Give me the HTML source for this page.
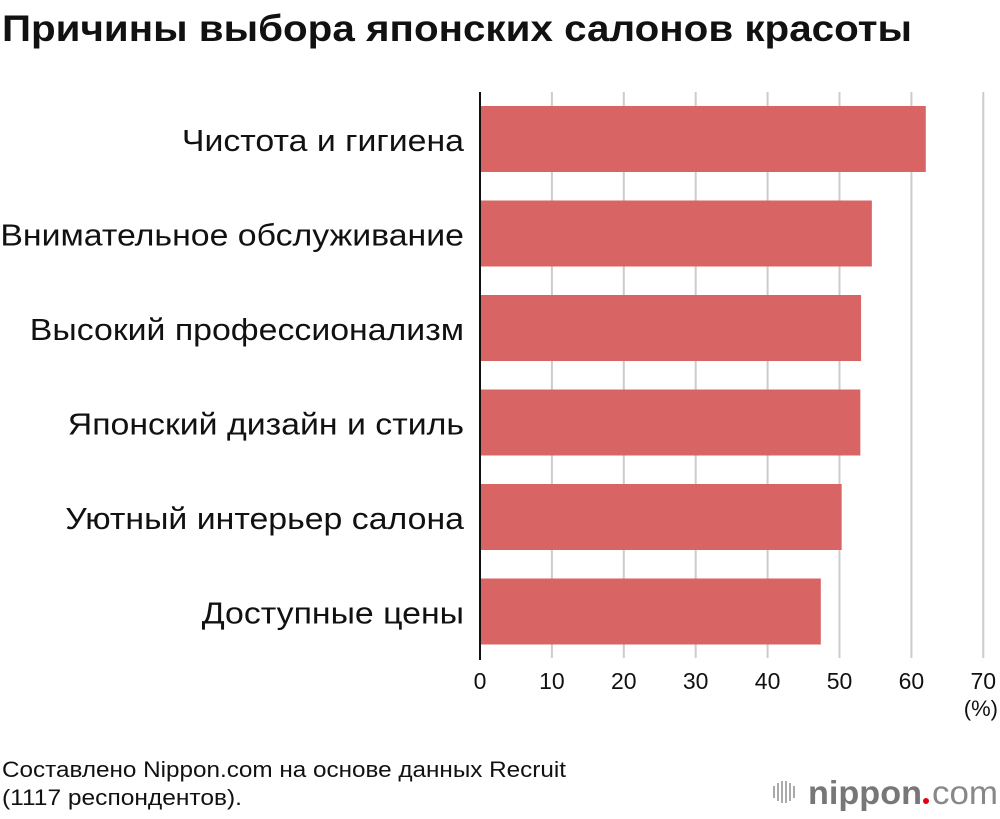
<!DOCTYPE html>
<html><head><meta charset="utf-8"><style>
body{margin:0;background:#fff;width:1000px;height:814px;overflow:hidden;font-family:"Liberation Sans",sans-serif}
svg text{font-family:"Liberation Sans",sans-serif}
</style></head><body>
<svg width="1000" height="814">
<text x="2" y="41" font-size="37" font-weight="bold" fill="#111" textLength="910" lengthAdjust="spacingAndGlyphs">Причины выбора японских салонов красоты</text>
<g id="grid"></g>
<g id="bars"></g>
<g id="labels"></g>
<g id="ticks"></g>
<line x1="480" y1="92" x2="480" y2="660" stroke="#111" stroke-width="2"/>
<text x="998" y="716" font-size="22" text-anchor="end" fill="#111">(%)</text>
<text x="2" y="777" font-size="22" fill="#111" textLength="564" lengthAdjust="spacingAndGlyphs">Составлено Nippon.com на основе данных Recruit</text>
<text x="2" y="805" font-size="22" fill="#111" textLength="240" lengthAdjust="spacingAndGlyphs">(1117 респондентов).</text>
<g>
<g fill="#aaa"><rect x="773" y="786" width="2" height="12"/><rect x="777" y="783" width="2" height="18"/><rect x="781" y="781" width="2" height="22"/><rect x="785" y="781" width="2" height="22"/><rect x="789" y="783" width="2" height="18"/><rect x="793" y="786" width="2" height="12"/></g>
<text x="808" y="804" font-size="33" font-weight="bold" fill="#777" textLength="114" lengthAdjust="spacingAndGlyphs">nippon</text>
<circle cx="926" cy="801" r="3" fill="#e60012"/>
<text x="932" y="804" font-size="33" fill="#888" textLength="66" lengthAdjust="spacingAndGlyphs">com</text>
</g>
</svg>
<script>
const categories=["Чистота и гигиена","Внимательное обслуживание","Высокий профессионализм","Японский дизайн и стиль","Уютный интерьер салона","Доступные цены"];
const values=[62.0,54.5,53.0,52.9,50.3,47.4];
const tickValues=[0,10,20,30,40,50,60,70];
const NS="http://www.w3.org/2000/svg";
const x0=480,pxPer=71.9/10;
const xs=v=>x0+v*pxPer;
const yTop=i=>106+i*94.5;
function mk(t,a,p){const e=document.createElementNS(NS,t);for(const k in a)e.setAttribute(k,a[k]);p.appendChild(e);return e;}
const g=document.getElementById('grid'),b=document.getElementById('bars'),l=document.getElementById('labels'),t=document.getElementById('ticks');
tickValues.forEach(v=>{
 if(v>0){const ln=mk('line',{x1:xs(v),x2:xs(v),y1:92,y2:658,stroke:'#ccc','stroke-width':2},g);
 
 }
 const tx=mk('text',{x:xs(v),y:689,'font-size':23,'text-anchor':'middle',fill:'#111'},t);
 tx.textContent=v;
 
 
});
categories.forEach((c,i)=>{
 const r=mk('rect',{x:x0,y:yTop(i),width:xs(values[i])-x0,height:66,fill:'#d96464'},b);
 
 
 const tx=mk('text',{x:464,y:yTop(i)+45,'font-size':29,'text-anchor':'end',fill:'#111'},l);
 tx.textContent=c;
 
 
 const w=tx.getComputedTextLength();
 tx.setAttribute('font-size',31);
 tx.setAttribute('lengthAdjust','spacingAndGlyphs');
 tx.setAttribute('textLength',w*1.167);
});
</script>
</body></html>
